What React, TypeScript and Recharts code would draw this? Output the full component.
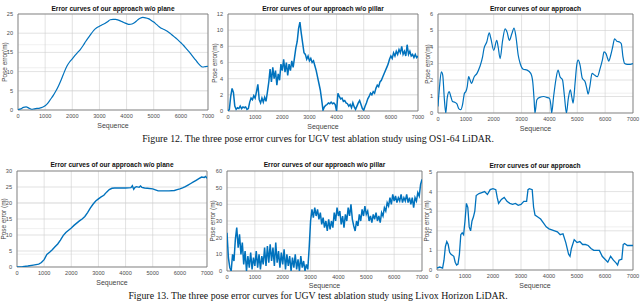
import React from "react";
import { LineChart, Line, XAxis, YAxis, CartesianGrid, ReferenceArea } from "recharts";

// shared x axis (sequence index)
const SEQ_TICKS = [0, 1000, 2000, 3000, 4000, 5000, 6000, 7000];
const SEQ_STEP_100 = Array.from({ length: 71 }, (_, i) => i * 100);
const SEQ_STEP_50 = Array.from({ length: 141 }, (_, i) => i * 50);

// Figure 12 (OS1-64)
const OS1_NO_PLANE = [
  0.1, 0.3, 0.7, 0.8, 0.5, 0.2, 0.3, 0.4, 0.5, 0.7, 1.1, 1.8, 2.8, 3.8, 5.0, 6.4, 8.0, 9.8, 11.4, 12.5,
  13.3, 14.2, 15.0, 15.8, 16.8, 17.9, 18.9, 19.9, 20.8, 21.4, 21.8, 22.2, 22.5, 23.0, 23.5, 23.6, 23.6, 23.4,
  23.1, 22.8, 22.5, 22.3, 22.4, 22.8, 23.4, 23.9, 24.1, 24.0, 23.8, 23.4, 22.9, 22.3, 21.7, 21.2, 20.9, 20.5,
  20.0, 19.4, 18.8, 18.2, 17.5, 16.8, 16.0, 15.2, 14.3, 13.4, 12.5, 11.7, 11.2, 11.3, 11.4,
];

const OS1_NO_PILLAR = [
  0.0, 0.2, 1.8, 2.8, 2.3, 0.6, 0.2, 0.4, 0.3, 0.6, 0.3, 0.5, 0.4, 0.5, 0.2, 0.3, 1.1, 1.6, 1.4, 1.9,
  1.6, 2.4, 3.3, 1.4, 1.0, 1.6, 1.1, 1.7, 1.2, 2.3, 3.5, 5.2, 3.6, 5.4, 4.0, 5.0, 3.2, 4.6, 3.8, 5.8,
  5.0, 6.4, 4.8, 6.0, 4.4, 5.8, 5.0, 6.2, 5.4, 6.6, 7.8, 8.6, 10.2, 11.0, 9.6, 8.4, 7.2, 7.0, 6.4, 6.8,
  6.2, 6.5, 6.0, 6.2, 5.6, 5.0, 4.2, 3.4, 2.6, 1.4, 0.1, 0.5, 0.7, 0.8, 1.0, 0.9, 1.1, 0.9, 1.0, 0.8,
  0.0, 2.2, 1.8, 1.5, 1.6, 1.2, 1.3, 1.0, 0.9, 0.6, 0.8, 0.4, 1.0, 0.5, 0.2, 0.6, 1.0, 1.3, 0.8, 0.3,
  0.1, 0.6, 1.0, 1.5, 1.8, 2.2, 2.0, 2.4, 2.2, 2.8, 3.2, 3.0, 3.6, 3.8, 4.2, 4.6, 5.0, 5.4, 5.8, 6.4,
  6.8, 6.5, 7.2, 6.8, 7.4, 7.0, 7.6, 7.2, 8.0, 7.0, 7.4, 6.8, 8.2, 7.0, 7.4, 6.8, 7.0, 6.6, 7.0, 6.6,
  6.8,
];

const OS1_FULL_SEQ = [
  0, 50, 120, 170, 230, 280, 330, 400, 460, 520, 600, 680, 750, 820, 880, 950, 1000, 1050, 1100, 1150,
  1200, 1300, 1400, 1500, 1600, 1650, 1750, 1840, 1900, 2000, 2110, 2160, 2230, 2320, 2410, 2480, 2560,
  2650, 2730, 2800, 2880, 2950, 3060, 3200, 3330, 3400, 3450, 3480, 3550, 3650, 3800, 3900, 4000, 4050,
  4080, 4150, 4230, 4310, 4380, 4470, 4540, 4610, 4680, 4750, 4800, 4850, 4920, 4980, 5030, 5100, 5180,
  5280, 5340, 5390, 5450, 5530, 5620, 5720, 5820, 5900, 5960, 6030, 6090, 6130, 6200, 6270, 6340, 6420,
  6520, 6580, 6640, 6700, 6800, 6900, 7000,
];
const OS1_FULL = [
  0.4, 1.5, 2.5, 2.3, 0.8, 0.0, 0.9, 1.3, 1.0, 0.7, 0.65, 0.55, 0.25, 0.2, 0.5, 1.2, 1.3, 1.6, 2.2, 2.0,
  1.8, 2.2, 2.4, 2.8, 3.4, 3.9, 4.3, 4.85, 4.5, 3.8, 4.4, 4.0, 3.3, 4.4, 5.1, 4.9, 4.4,
  4.8, 5.15, 4.6, 3.5, 3.0, 2.65, 2.6, 2.4, 1.9, 0.8, 0.0, 0.8, 0.95, 1.0, 0.95, 0.9, 0.5,
  0.0, 1.0, 2.0, 2.6, 2.2, 2.0, 1.0, 0.0, 0.9, 1.4, 1.0, 0.6, 1.8, 2.9, 3.2, 2.9, 2.1,
  1.9, 1.5, 1.15, 1.6, 2.4, 2.3, 2.2, 2.7, 3.2, 3.7, 3.6, 3.3, 3.15, 3.5, 4.0, 4.5, 4.35,
  4.3, 4.2, 3.4, 3.0, 2.95, 2.95, 3.0,
];

// Figure 13 (Livox Horizon)
const LIVOX_NO_PLANE_SEQ = [
  0, 200, 400, 600, 800, 900, 1000, 1100, 1200, 1300, 1400, 1500, 1600, 1700, 1800, 1900, 2000, 2100,
  2200, 2300, 2400, 2500, 2600, 2700, 2800, 2900, 3000, 3100, 3200, 3300, 3400, 3500, 3600, 3800, 4000,
  4200, 4250, 4300, 4350, 4400, 4500, 4550, 4600, 4700, 4800, 5000, 5100, 5200, 5400, 5600, 5800, 5900,
  6000, 6100, 6200, 6300, 6400, 6500, 6600, 6700, 6800, 6900, 6950, 7000,
];
const LIVOX_NO_PLANE = [
  0, 0.1, 0.3, 0.6, 0.9, 1.4, 2.3, 3.9, 4.6, 5.4, 6.3, 7.2, 8.4, 9.8, 10.8, 11.5, 12.2, 13.0,
  13.7, 14.4, 15.0, 15.8, 17.0, 18.4, 19.6, 20.6, 21.3, 21.9, 22.4, 23.4, 24.2, 24.6, 24.7, 24.7, 24.7,
  24.8, 25.4, 24.3, 24.9, 25.1, 24.9, 25.3, 24.9, 24.7, 24.6, 24.4, 24.1, 23.8, 23.8, 23.8, 23.9, 24.2,
  24.4, 24.7, 25.1, 25.6, 26.1, 26.6, 27.1, 27.6, 28.1, 28.0, 28.3, 27.7,
];

const LIVOX_NO_PILLAR = [
  23, 8, 2, 0, 10, 6, 19, 26, 14, 22, 10, 17, 4, 12, 0, 9, 2, 11, 1, 8,
  3, 12, 2, 10, 1, 9, 4, 14, 3, 15, 5, 16, 6, 14, 3, 17, 5, 12, 2, 11,
  4, 13, 1, 10, 3, 9, 0, 8, 2, 10, 1, 7, 0, 9, 2, 6, 0, 4, 1, 14,
  30, 37, 32, 38, 33, 37, 31, 35, 28, 32, 26, 30, 24, 31, 25, 30, 26, 35, 30, 38,
  33, 36, 28, 33, 26, 34, 30, 38, 33, 40, 31, 27, 24, 30, 27, 34, 30, 37, 33, 39,
  34, 36, 30, 33, 29, 34, 31, 35, 30, 33, 29, 35, 33, 38, 36, 41, 39, 44, 40, 46,
  42, 45, 41, 44, 42, 46, 41, 44, 42, 46, 41, 44, 40, 44, 38, 44, 42, 47, 45, 52,
  55,
];

const LIVOX_FULL_SEQ = [
  0, 100, 200, 250, 300, 350, 400, 450, 500, 600, 650, 700, 750, 800, 850, 900, 950, 1000, 1050, 1100,
  1150, 1200, 1250, 1300, 1350, 1400, 1500, 1600, 1700, 1800, 1900, 2000, 2100, 2150, 2200, 2300, 2400,
  2500, 2600, 2700, 2800, 2900, 3000, 3100, 3200, 3250, 3300, 3400, 3450, 3500, 3600, 3700, 3800, 3900,
  4000, 4100, 4200, 4300, 4400, 4500, 4600, 4700, 4750, 4800, 4900, 5000, 5100, 5200, 5300, 5400, 5500,
  5600, 5700, 5800, 5900, 6000, 6100, 6200, 6300, 6400, 6450, 6500, 6600, 6650, 6700, 6800, 6900, 7000,
];
const LIVOX_FULL = [
  0.1, 0.15, 0.1, 0.5, 1.2, 1.45, 1.3, 0.9, 0.8, 0.7, 0.4, 0.25, 0.3, 0.8, 1.8, 1.9, 1.8, 2.5, 3.4, 3.2,
  2.2, 2.0, 2.5, 2.7, 3.0, 3.8, 3.9, 3.95, 4.0, 3.85, 4.1, 4.15, 4.1, 3.7, 3.4, 3.6, 3.7,
  3.5, 3.4, 3.35, 3.4, 3.3, 3.35, 3.5, 3.5, 4.1, 4.15, 4.1, 3.2, 2.8, 2.7, 2.6, 2.4, 2.2,
  2.1, 2.05, 2.0, 1.95, 1.8, 1.85, 1.4, 0.8, 0.7, 1.1, 1.55, 1.4, 1.45, 1.3, 1.3, 1.25, 1.1,
  1.0, 1.0, 1.0, 0.7, 0.55, 0.4, 0.7, 0.5, 0.35, 0.25, 0.5, 0.55, 1.3, 1.35, 1.25, 1.25, 1.25,
];

const BLUE = "#0072BD";
const SANS = "'Liberation Sans', Arial, sans-serif";

const steps = (max: number, step: number) => {
  const out: number[] = [];
  for (let v = 0; v <= max + 1e-9; v += step) out.push(Math.round(v * 1000) / 1000);
  return out;
};

interface PanelProps {
  left: number;
  top: number;
  w: number;
  h: number;
  title: string;
  titleY: number;
  yLabel: string;
  yLabelX: number;
  xLabelY: number;
  seq: number[];
  values: number[];
  yTicks: number[];
  yMinor: number;
  smooth?: boolean;
  lineWidth?: number;
}

function Panel(p: PanelProps) {
  const data = p.seq.map((s, i) => ({ s, v: p.values[i] }));
  const yMax = p.yTicks[p.yTicks.length - 1];
  const padL = 22;
  const padT = 2;
  const padR = 12;
  const padB = 10;
  const tick = { fontSize: 5.6, fill: "#4d4d4d", fontFamily: SANS };
  return (
    <>
      <div style={{ position: "absolute", left: p.left - padL, top: p.top - padT }}>
        <LineChart
          width={p.w + padL + padR}
          height={p.h + padT + padB}
          data={data}
          margin={{ top: padT, right: padR, left: 0, bottom: 0 }}
        >
          <XAxis xAxisId="mx" type="number" domain={[0, 7000]} ticks={steps(7000, 200)} hide allowDataOverflow />
          <YAxis yAxisId="my" type="number" domain={[0, yMax]} ticks={steps(yMax, p.yMinor)} hide allowDataOverflow />
          <CartesianGrid xAxisId="mx" yAxisId="my" stroke="#e6e6e6" strokeWidth={0.6} />
          <XAxis
            dataKey="s"
            type="number"
            domain={[0, 7000]}
            ticks={SEQ_TICKS}
            interval={0}
            tickLine={false}
            axisLine={false}
            tickSize={2}
            height={padB}
            tick={tick}
            allowDataOverflow
          />
          <YAxis
            type="number"
            domain={[0, yMax]}
            ticks={p.yTicks}
            interval={0}
            tickLine={false}
            axisLine={false}
            tickSize={3}
            width={padL}
            tick={tick}
            allowDataOverflow
          />
          <CartesianGrid stroke="#cfcfcf" strokeWidth={0.6} />
          <ReferenceArea x1={0} x2={7000} y1={0} y2={yMax} fill="none" stroke="#6e6e6e" strokeWidth={0.7} />
          <Line
            dataKey="v"
            type={p.smooth ? "monotone" : "linear"}
            stroke={BLUE}
            strokeWidth={p.lineWidth ?? 1.2}
            dot={false}
            isAnimationActive={false}
          />
        </LineChart>
      </div>
      <div
        style={{
          position: "absolute",
          left: p.left + p.w / 2,
          top: p.titleY,
          transform: "translate(-50%, -50%)",
          fontFamily: SANS,
          fontWeight: "bold",
          fontSize: 6.6,
          lineHeight: 1,
          whiteSpace: "nowrap",
          color: "#111",
        }}
      >
        {p.title}
      </div>
      <div
        style={{
          position: "absolute",
          left: p.yLabelX,
          top: p.top + p.h / 2,
          transform: "translate(-50%, -50%) rotate(-90deg)",
          fontFamily: SANS,
          fontSize: 6.4,
          lineHeight: 1,
          whiteSpace: "nowrap",
          color: "#444",
        }}
      >
        {p.yLabel}
      </div>
      <div
        style={{
          position: "absolute",
          left: p.left + p.w / 2,
          top: p.xLabelY,
          transform: "translate(-50%, -50%)",
          fontFamily: SANS,
          fontSize: 7,
          lineHeight: 1,
          whiteSpace: "nowrap",
          color: "#444",
        }}
      >
        Sequence
      </div>
    </>
  );
}

const caption: React.CSSProperties = {
  position: "absolute",
  left: 318,
  transform: "translate(-50%, -50%)",
  fontFamily: "'Liberation Serif', 'Times New Roman', serif",
  fontSize: 9.8,
  lineHeight: 1,
  whiteSpace: "nowrap",
  color: "#111",
};

export default function App() {
  return (
    <div style={{ position: "absolute", left: 0, top: 0, width: 640, height: 302, background: "#fff", overflow: "hidden" }}>
      <Panel left={18} top={14} w={190} h={96} title="Error curves of our approach w/o plane" titleY={9}
        yLabel="Pose error(m)" yLabelX={5} xLabelY={125} seq={SEQ_STEP_100} values={OS1_NO_PLANE}
        yTicks={[0, 5, 10, 15, 20, 25]} yMinor={1} smooth />
      <Panel left={228} top={14} w={190} h={97} title="Error curves of our approach w/o pillar" titleY={9}
        yLabel="Pose error(m)" yLabelX={215} xLabelY={126} seq={SEQ_STEP_50} values={OS1_NO_PILLAR}
        yTicks={[0, 2, 4, 6, 8, 10, 12]} yMinor={0.5} lineWidth={1.5} />
      <Panel left={438} top={14} w={195} h={99} title="Error curves of our approach" titleY={9}
        yLabel="Pose error(m)" yLabelX={428} xLabelY={128} seq={OS1_FULL_SEQ} values={OS1_FULL}
        yTicks={[0, 1, 2, 3, 4, 5, 6]} yMinor={0.2} smooth />
      <div style={{ ...caption, top: 139 }}>
        Figure 12. The three pose error curves for UGV test ablation study using OS1-64 LiDAR.
      </div>

      <Panel left={17} top={171} w={190} h={96} title="Error curves of our approach w/o plane" titleY={165}
        yLabel="Pose error (m)" yLabelX={4} xLabelY={282} seq={LIVOX_NO_PLANE_SEQ} values={LIVOX_NO_PLANE}
        yTicks={[0, 5, 10, 15, 20, 25, 30]} yMinor={1} lineWidth={1.4} />
      <Panel left={227} top={171} w={195} h={100} title="Error curves of our approach w/o pillar" titleY={165}
        yLabel="Pose error (m)" yLabelX={213} xLabelY={285} seq={SEQ_STEP_50} values={LIVOX_NO_PILLAR}
        yTicks={[0, 10, 20, 30, 40, 50, 60]} yMinor={2} lineWidth={1.5} />
      <Panel left={437} top={172} w={196} h={98} title="Error curves of our approach" titleY={166}
        yLabel="Pose error (m)" yLabelX={427} xLabelY={285} seq={LIVOX_FULL_SEQ} values={LIVOX_FULL}
        yTicks={[0, 1, 2, 3, 4, 5]} yMinor={0.2} lineWidth={1.3} />
      <div style={{ ...caption, top: 296 }}>
        Figure 13. The three pose error curves for UGV test ablation study using Livox Horizon LiDAR.
      </div>
    </div>
  );
}
